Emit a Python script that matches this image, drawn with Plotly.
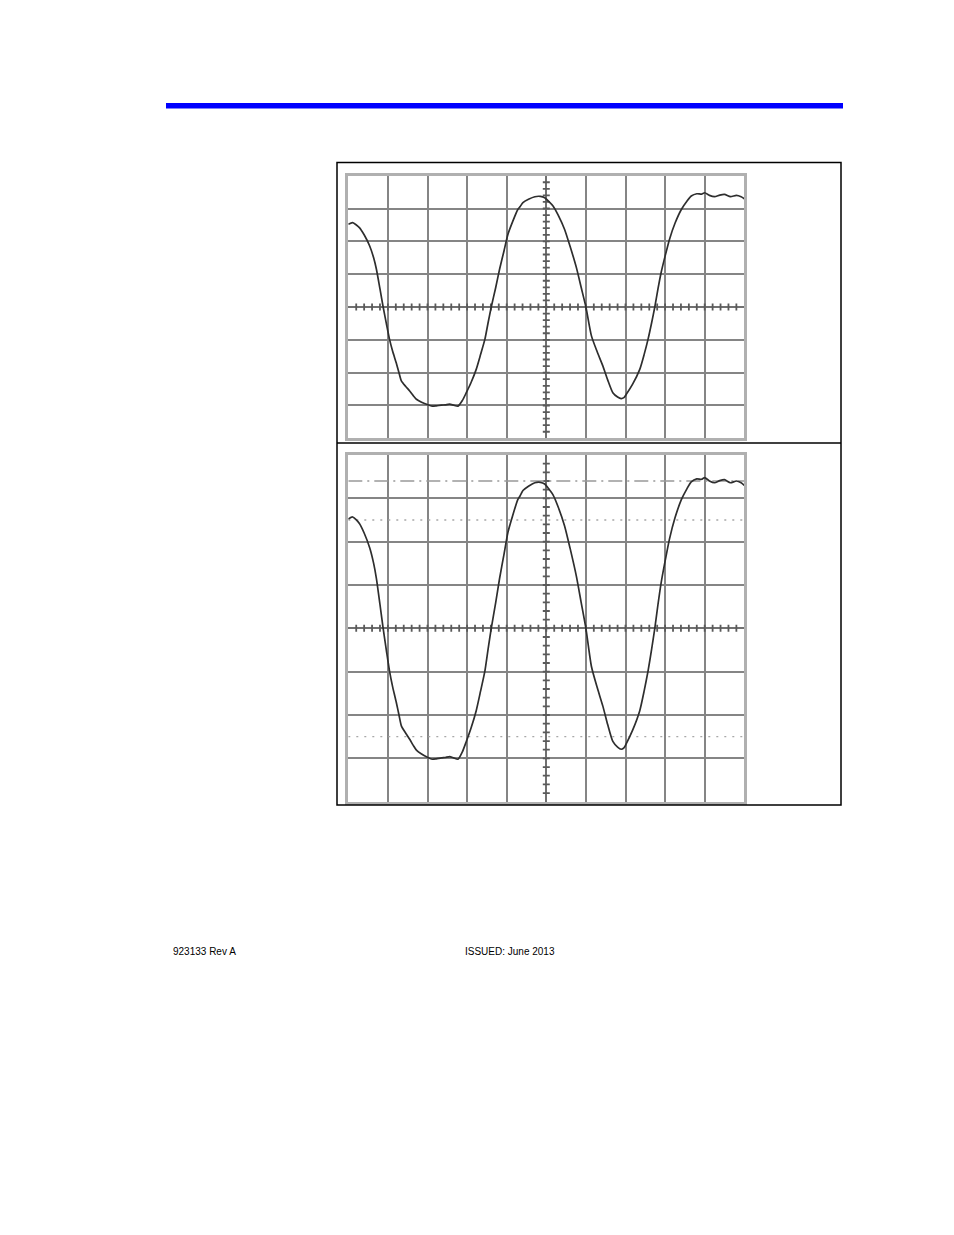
import numpy as np
import plotly.graph_objects as go

W, H = 954, 1235
PAGE_OFFSET = 8  # body margin of the html page

# waveform, in graticule divisions (x: -5..5, y: -4..4)
wave_x = [-5.0, -4.89, -4.72, -4.60, -4.46, -4.36, -4.29, -4.20, -4.12, -4.04, -3.96,
          -3.88, -3.79, -3.72, -3.66, -3.55, -3.45, -3.36, -3.28, -3.15, -2.99, -2.88,
          -2.78, -2.65, -2.55, -2.44, -2.34, -2.23, -2.12, -2.02, -1.90, -1.77, -1.66,
          -1.55, -1.47, -1.39, -1.28, -1.18, -1.07, -0.97, -0.85, -0.72, -0.66, -0.59,
          -0.45, -0.29, -0.15, -0.04, 0.06, 0.17, 0.30, 0.46, 0.60, 0.76, 0.88, 1.0,
          1.14, 1.28, 1.43, 1.55, 1.68, 1.80, 1.89, 1.96, 2.02, 2.18, 2.36, 2.47, 2.57,
          2.66, 2.74, 2.82, 2.90, 3.00, 3.11, 3.25, 3.41, 3.55, 3.66, 3.80, 3.92, 4.0,
          4.12, 4.25, 4.38, 4.50, 4.65, 4.80, 4.92, 5.0]
wave_y = [2.52, 2.57, 2.42, 2.20, 1.86, 1.50, 1.15, 0.55, 0.0, -0.50, -0.98,
          -1.35, -1.70, -2.00, -2.25, -2.42, -2.56, -2.70, -2.81, -2.90, -2.98, -3.02,
          -3.01, -2.99, -2.98, -2.96, -2.99, -3.02, -2.85, -2.61, -2.30, -1.90, -1.45,
          -0.98, -0.48, 0.0, 0.58, 1.15, 1.70, 2.21, 2.60, 2.97, 3.06, 3.18,
          3.28, 3.36, 3.37, 3.33, 3.22, 3.08, 2.80, 2.37, 1.85, 1.20, 0.60, 0.0,
          -0.88, -1.35, -1.80, -2.22, -2.61, -2.74, -2.79, -2.76, -2.66, -2.35, -1.90, -1.45, -0.98,
          -0.48, 0.0, 0.55, 1.05, 1.55, 2.06, 2.55, 2.97, 3.22, 3.38, 3.45, 3.44, 3.48,
          3.40, 3.36, 3.41, 3.43, 3.36, 3.40, 3.36, 3.30]

# cursor levels on the lower screen (divisions)
cursor_dashdot = [3.4]
cursor_dotted = [2.5, -2.5]

x_divs = [-5, 5]
y_divs = [-4, 4]
minor_step = 0.2


def px_x(p):
    return (p - PAGE_OFFSET) / W


def px_y(p):
    return 1 - (p - PAGE_OFFSET) / H


fig = go.Figure()

screens = [
    dict(xa='x', ya='y', top=175.7, bottom=438.3),
    dict(xa='x2', ya='y2', top=455.0, bottom=801.7),
]

minor_x = np.arange(x_divs[0] + minor_step, x_divs[1] - 1e-9, minor_step)
minor_y = np.arange(y_divs[0] + minor_step, y_divs[1] - 1e-9, minor_step)

for i, s in enumerate(screens):
    # tick marks on the centre cross
    fig.add_trace(go.Scatter(x=minor_x, y=np.zeros(len(minor_x)), mode='markers',
                             xaxis=s['xa'], yaxis=s['ya'], hoverinfo='skip',
                             marker=dict(symbol='line-ns', size=5,
                                         line=dict(width=1.8, color='#5a5a5a'))))
    fig.add_trace(go.Scatter(x=np.zeros(len(minor_y)), y=minor_y, mode='markers',
                             xaxis=s['xa'], yaxis=s['ya'], hoverinfo='skip',
                             marker=dict(symbol='line-ew', size=5,
                                         line=dict(width=1.8, color='#5a5a5a'))))
    if i == 1:
        for lvl in cursor_dashdot:
            fig.add_trace(go.Scatter(x=x_divs, y=[lvl, lvl], mode='lines',
                                     xaxis=s['xa'], yaxis=s['ya'], hoverinfo='skip',
                                     line=dict(color='#999999', width=1.3,
                                               dash='14px,5px,2px,5px')))
        for lvl in cursor_dotted:
            fig.add_trace(go.Scatter(x=x_divs, y=[lvl, lvl], mode='lines',
                                     xaxis=s['xa'], yaxis=s['ya'], hoverinfo='skip',
                                     line=dict(color='#a8a8a8', width=1.3, dash='2px,6px')))
    fig.add_trace(go.Scatter(x=wave_x, y=wave_y, mode='lines',
                             xaxis=s['xa'], yaxis=s['ya'], hoverinfo='skip',
                             line=dict(color='#2e2e2e', width=1.7, shape='spline',
                                       smoothing=0.6)))

axis_common = dict(showgrid=True, dtick=1, gridcolor='#858585', gridwidth=1.5,
                   zeroline=True, zerolinecolor='#707070', zerolinewidth=1.5,
                   showline=True, linecolor='#b0b0b0', linewidth=3, mirror=True,
                   showticklabels=False, ticks='', fixedrange=True)

x_dom = [px_x(348.3), px_x(744.3)]
layout = dict(width=W, height=H, margin=dict(l=0, r=0, t=0, b=0),
              paper_bgcolor='white', plot_bgcolor='white', showlegend=False)
for i, s in enumerate(screens):
    suffix = '' if i == 0 else str(i + 1)
    layout['xaxis' + suffix] = dict(axis_common, range=x_divs, domain=x_dom,
                                    anchor='y' + suffix)
    layout['yaxis' + suffix] = dict(axis_common, range=y_divs,
                                    domain=[px_y(s['bottom']), px_y(s['top'])],
                                    anchor='x' + suffix)
fig.update_layout(**layout)

shapes = [
    # blue header rule
    dict(type='rect', xref='paper', yref='paper', x0=px_x(166), x1=px_x(843),
         y0=px_y(108.5), y1=px_y(103), fillcolor='#0000ff', line=dict(width=0)),
    # box around both screens
    dict(type='rect', xref='paper', yref='paper', x0=px_x(337), x1=px_x(841),
         y0=px_y(805), y1=px_y(162.5), line=dict(color='black', width=1.5)),
    dict(type='line', xref='paper', yref='paper', x0=px_x(337), x1=px_x(841),
         y0=px_y(443), y1=px_y(443), line=dict(color='black', width=1.5)),
]
fig.update_layout(shapes=shapes)

fig.add_annotation(text='923133 Rev A', xref='paper', yref='paper', x=px_x(171), y=px_y(951),
                   xanchor='left', yanchor='middle', showarrow=False,
                   font=dict(family='Liberation Sans, Arial', size=10, color='black'))
fig.add_annotation(text='ISSUED: June 2013', xref='paper', yref='paper', x=px_x(463), y=px_y(951),
                   xanchor='left', yanchor='middle', showarrow=False,
                   font=dict(family='Liberation Sans, Arial', size=10, color='black'))

fig.write_html('out.html')
